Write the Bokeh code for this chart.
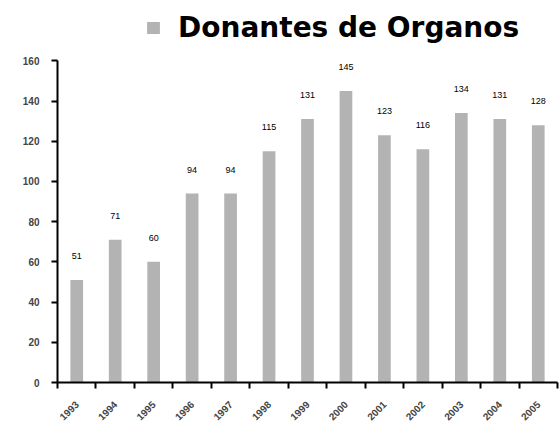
import math
from bokeh.plotting import figure
from bokeh.models import ColumnDataSource, FixedTicker, Legend, LegendItem, Range1d
from bokeh.embed import file_html
from bokeh.resources import INLINE
from bokeh.core.properties import value

years = ["1993", "1994", "1995", "1996", "1997", "1998", "1999",
         "2000", "2001", "2002", "2003", "2004", "2005"]
donantes = [51, 71, 60, 94, 94, 115, 131, 145, 123, 116, 134, 131, 128]
y_ticks = [0, 20, 40, 60, 80, 100, 120, 140, 160]

xs = list(range(1, len(years) + 1))
src = ColumnDataSource(dict(x=xs, top=donantes, lbl=[str(v) for v in donantes]))

p = figure(width=560, height=434, output_backend="svg", toolbar_location=None,
           x_range=Range1d(0.5, len(years) + 0.5), y_range=Range1d(0, 190),
           min_border_left=57, min_border_right=3, min_border_bottom=52, min_border_top=0)
p.outline_line_color = None
p.xgrid.grid_line_color = None
p.ygrid.grid_line_color = None

r = p.vbar(x="x", top="top", width=0.33, source=src, fill_color="#b3b3b3", line_color=None)
p.text(x="x", y="top", text="lbl", source=src, text_align="center", text_baseline="bottom",
       y_offset=-21, text_font_size="9px", text_font=value("Liberation Sans"), text_color="black")

p.xaxis.ticker = FixedTicker(ticks=xs, minor_ticks=[i + 0.5 for i in range(0, len(years) + 1)])
p.xaxis.major_label_overrides = {i: y for i, y in zip(xs, years)}
p.xaxis.major_tick_line_color = None
p.xaxis.minor_tick_line_color = "black"
p.xaxis.minor_tick_line_width = 2
p.xaxis.minor_tick_in = 0
p.xaxis.minor_tick_out = 6
p.xaxis.axis_line_width = 2
p.xaxis.major_label_orientation = math.pi / 4
p.xaxis.major_label_standoff = 14
p.xaxis.major_label_text_font = "Liberation Sans"
p.xaxis.major_label_text_font_size = "10px"
p.xaxis.major_label_text_font_style = "bold"

p.yaxis.ticker = FixedTicker(ticks=y_ticks, minor_ticks=[])
p.yaxis.bounds = (y_ticks[0], y_ticks[-1])
p.yaxis.axis_line_width = 2
p.yaxis.major_tick_line_width = 2
p.yaxis.major_tick_in = 0
p.yaxis.major_tick_out = 6
p.yaxis.major_label_standoff = 12
p.yaxis.major_label_text_font = "Liberation Sans"
p.yaxis.major_label_text_font_size = "10px"
p.yaxis.major_label_text_font_style = "bold"

legend = Legend(items=[LegendItem(label="Donantes de Organos", renderers=[r])],
                location=(88, 338), orientation="horizontal", border_line_color=None,
                background_fill_alpha=0,
                label_text_font="DejaVu Sans", label_text_font_size="28px",
                label_text_font_style="bold", label_text_color="black",
                glyph_width=16, glyph_height=15,
                margin=0, padding=2, label_standoff=17)
p.add_layout(legend)

open("out.html", "w").write(file_html(p, INLINE))
